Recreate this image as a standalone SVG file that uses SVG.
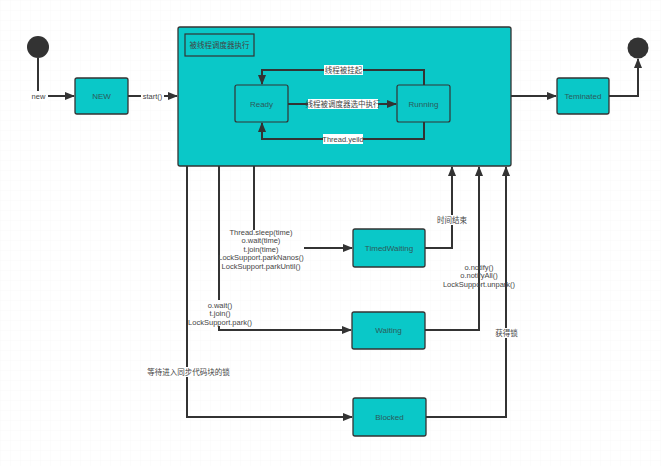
<svg xmlns="http://www.w3.org/2000/svg" width="661" height="466" viewBox="0 0 661 466">
<defs>
<pattern id="grid" width="10" height="10" patternUnits="userSpaceOnUse"><path d="M10 0H0V10" fill="none" stroke="#f4f4f4" stroke-width="0.6"/></pattern>
<marker id="ah" markerWidth="10" markerHeight="8" refX="9" refY="4" orient="auto" markerUnits="userSpaceOnUse"><path d="M0 0L10 4L0 8Z" fill="#333"/></marker>
<style>
.st{fill:#0ac8c8;stroke:#333;stroke-width:1.3}
.bt{font-family:"Liberation Sans","Noto Sans CJK SC",sans-serif;font-size:8px;fill:#2a5a5a;text-anchor:middle;dominant-baseline:central}
.lb{font-family:"Liberation Sans","Noto Sans CJK SC",sans-serif;font-size:7.5px;fill:#444;text-anchor:middle;dominant-baseline:central}
.ln{fill:none;stroke:#333;stroke-width:2}
.bg{fill:#fff}
</style>
</defs>
<rect width="661" height="466" fill="#fff"/>
<rect width="661" height="466" fill="url(#grid)"/>
<g id="start"><circle cx="38" cy="47" r="11" fill="#333"/></g>
<g id="end"><circle cx="638" cy="48" r="10.5" fill="#333"/></g>
<g id="new"><rect class="st" x="75" y="78" width="53" height="36" rx="2"/><text class="bt" x="101.5" y="96">NEW</text></g>
<g id="container"><rect class="st" x="178" y="27" width="333" height="139" rx="2"/>
<rect x="185" y="34" width="69" height="22" fill="none" stroke="#333" stroke-width="1.2"/>
<text class="lb" x="219.5" y="45" fill="#2a5a5a">被线程调度器执行</text></g>
<g id="ready"><rect x="235" y="85" width="53" height="37" rx="2" fill="none" stroke="#333" stroke-width="1.2"/><text class="bt" x="261.5" y="104">Ready</text></g>
<g id="running"><rect x="397" y="85" width="53" height="37" rx="2" fill="none" stroke="#333" stroke-width="1.2"/><text class="bt" x="423.5" y="104">Running</text></g>
<g id="terminated"><rect class="st" x="557" y="78" width="52" height="36" rx="2"/><text class="bt" x="583" y="96">Teminated</text></g>
<g id="timedwaiting"><rect class="st" x="353" y="229" width="72" height="38" rx="2"/><text class="bt" x="389" y="248">TimedWaiting</text></g>
<g id="waiting"><rect class="st" x="352" y="312" width="73" height="37" rx="2"/><text class="bt" x="388.5" y="330.5">Waiting</text></g>
<g id="blocked"><rect class="st" x="353" y="398" width="73" height="38" rx="2"/><text class="bt" x="389.5" y="417">Blocked</text></g>
<g id="connectors">
<path class="ln" d="M38 58V96H74" marker-end="url(#ah)"/>
<path class="ln" d="M128 96H177" marker-end="url(#ah)"/>
<path class="ln" d="M424 85V70H262V84" marker-end="url(#ah)"/>
<path class="ln" d="M288 104H396" marker-end="url(#ah)"/>
<path class="ln" d="M424 122V139H262V123" marker-end="url(#ah)"/>
<path class="ln" d="M511 96H556" marker-end="url(#ah)"/>
<path class="ln" d="M609 96H638V59" marker-end="url(#ah)"/>
<path class="ln" d="M254 166V230"/>
<path class="ln" d="M304 248H352" marker-end="url(#ah)"/>
<path class="ln" d="M425 248H452V167" marker-end="url(#ah)"/>
<path class="ln" d="M219 166V300"/>
<path class="ln" d="M219 326V330H351" marker-end="url(#ah)"/>
<path class="ln" d="M425 330H479V167" marker-end="url(#ah)"/>
<path class="ln" d="M187 166V417H352" marker-end="url(#ah)"/>
<path class="ln" d="M426 417H506V167" marker-end="url(#ah)"/>
</g>
<g id="labels">
<rect class="bg" x="29" y="91" width="19" height="10"/><text class="lb" x="38.5" y="96">new</text>
<rect class="bg" x="141" y="91" width="23" height="10"/><text class="lb" x="152.5" y="96.5">start()</text>
<rect class="bg" x="324" y="65" width="39" height="10"/><text class="lb" x="343.5" y="70">线程被挂起</text>
<rect class="bg" x="308" y="99" width="70" height="10"/><text class="lb" x="343" y="104">线程被调度器选中执行</text>
<rect class="bg" x="323" y="134" width="40" height="10"/><text class="lb" x="343" y="139">Thread.yeild</text>
<text class="lb" x="261" y="232">Thread.sleep(time)</text>
<text class="lb" x="261" y="240.5">o.wait(time)</text>
<text class="lb" x="261" y="249">t.join(time)</text>
<text class="lb" x="261" y="257.5">LockSupport.parkNanos()</text>
<text class="lb" x="261" y="266">LockSupport.parkUntil()</text>
<rect class="bg" x="437" y="215" width="30" height="10"/><text class="lb" x="452" y="220">时间结束</text>
<text class="lb" x="220" y="305">o.wait()</text>
<text class="lb" x="220" y="313.5">t.join()</text>
<text class="lb" x="220" y="322">LockSupport.park()</text>
<text class="lb" x="479" y="267">o.notify()</text>
<text class="lb" x="479" y="275.5">o.notifyAll()</text>
<text class="lb" x="479" y="284">LockSupport.unpark()</text>
<rect class="bg" x="494" y="328" width="25" height="10"/><text class="lb" x="506.5" y="333">获得锁</text>
<rect class="bg" x="149" y="367" width="79" height="10"/><text class="lb" x="188.5" y="372">等待进入同步代码块的锁</text>
</g>
</svg>
